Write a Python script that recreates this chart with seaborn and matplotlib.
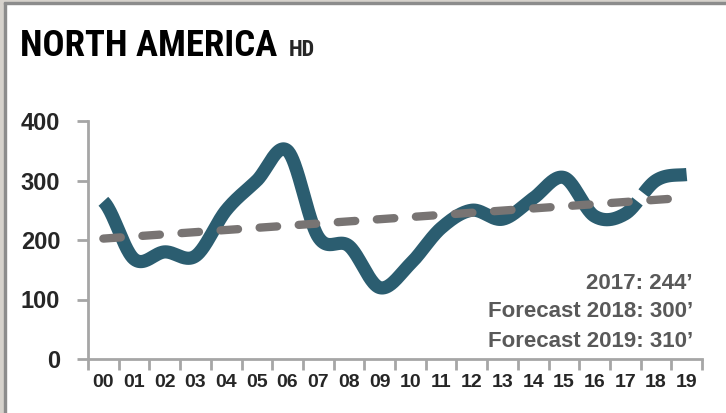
import numpy as np
import pandas as pd
import matplotlib
matplotlib.use("Agg")
import matplotlib.pyplot as plt
import seaborn as sns
from matplotlib.patches import Rectangle

# Annual volumes (thousand units), 2000-2019; last two are forecasts
year_labels = ["00", "01", "02", "03", "04", "05", "06", "07", "08", "09",
               "10", "11", "12", "13", "14", "15", "16", "17", "18", "19"]
volumes = [265, 168, 180, 173, 250, 300, 350, 205, 190, 120,
           160, 220, 250, 235, 270, 305, 240, 244, 300, 310]
forecast_start = 18
y_ticks = [0, 100, 200, 300, 400]
notes = ["2017: 244\u2019", "Forecast 2018: 300\u2019", "Forecast 2019: 310\u2019"]

TEAL = "#2b5d70"
TREND = "#787473"
AXIS = "#a6a6a6"
NOTE = "#595959"
NARROW = ["Liberation Sans Narrow", "Arial Narrow", "Roboto Condensed",
          "Archivo Narrow", "PT Sans Narrow", "Liberation Sans", "DejaVu Sans"]

sns.set_theme(style="white")
plt.rcParams["font.family"] = ["Liberation Sans", "DejaVu Sans"]

df = pd.DataFrame({"pos": np.arange(len(volumes)), "volume": volumes})


def catmull_rom(values, steps=40):
    """Smooth curve through equally spaced points (Excel-style smoothing)."""
    p = np.concatenate([[values[0]], values, [values[-1]]]).astype(float)
    ts, vs = [], []
    for i in range(len(values) - 1):
        p0, p1, p2, p3 = p[i], p[i + 1], p[i + 2], p[i + 3]
        u = np.linspace(0, 1, steps, endpoint=(i == len(values) - 2))
        v = 0.5 * (2 * p1 + (-p0 + p2) * u
                   + (2 * p0 - 5 * p1 + 4 * p2 - p3) * u ** 2
                   + (-p0 + 3 * p1 - 3 * p2 + p3) * u ** 3)
        ts.append(i + u)
        vs.append(v)
    return pd.DataFrame({"pos": np.concatenate(ts), "volume": np.concatenate(vs)})


curve = catmull_rom(np.array(volumes))
gap = 0.08
hist = curve[curve["pos"] <= forecast_start - 0.5 - gap]
fcst = curve[curve["pos"] >= forecast_start - 0.5 + gap]

fig = plt.figure(figsize=(7.26, 4.13), dpi=100)
ax = fig.add_axes([88 / 726, 54 / 413, 614 / 726, 238 / 413])

for part in (hist, fcst):
    sns.lineplot(data=part, x="pos", y="volume", ax=ax, color=TEAL, lw=9.5,
                 estimator=None, sort=False, solid_capstyle="butt", zorder=2)

sns.regplot(data=df, x="pos", y="volume", ax=ax, scatter=False, ci=None,
            truncate=True,
            line_kws=dict(color=TREND, lw=6, linestyle=(0, (2.1, 2.6)),
                          dash_capstyle="round", zorder=3))

ax.set_xlim(-0.5, len(volumes) - 0.5)
ax.set_ylim(0, 400)
ax.set_xlabel("")
ax.set_ylabel("")

# category axis: tick marks between years, labels centred on years
ax.set_xticks(np.arange(-0.5, len(volumes), 1))
ax.set_xticklabels([])
ax.set_xticks(np.arange(len(volumes)), minor=True)
ax.set_xticklabels(year_labels, minor=True, fontsize=14, fontweight="bold")
ax.tick_params(axis="x", which="major", length=8, width=2, color=AXIS,
               direction="out", bottom=True)
ax.tick_params(axis="x", which="minor", length=0, pad=11, bottom=True)

ax.set_yticks(y_ticks)
ax.set_yticklabels([str(t) for t in y_ticks], fontsize=17, fontweight="bold")
ax.tick_params(axis="y", length=8, width=2, color=AXIS, direction="out",
               left=True, pad=12)

for side in ("top", "right"):
    ax.spines[side].set_visible(False)
for side in ("left", "bottom"):
    ax.spines[side].set_color(AXIS)
    ax.spines[side].set_linewidth(2)
ax.grid(False)

for note, ypos in zip(notes, [0.294, 0.176, 0.052]):
    ax.text(0.985, ypos, note, transform=ax.transAxes, ha="right",
            va="baseline", fontsize=16, fontweight="bold", color=NOTE)

# title with a smaller suffix
title = fig.text(20 / 726, 1 - 56 / 413, "NORTH AMERICA", fontsize=26.5,
                 fontweight="bold", color="black", va="baseline", family=NARROW)
ax.annotate("HD", xy=(1, 1 - 56 / 413), xycoords=(title, "figure fraction"),
            xytext=(8, 0), textcoords="offset points", fontsize=16,
            fontweight="bold", va="baseline", ha="left", family=NARROW,
            annotation_clip=False)

# window-style frame on the left and top edges
fig.patches.append(Rectangle((0, 0), 4 / 726, 1, transform=fig.transFigure,
                             color="#d6d2cc", zorder=-1))
fig.patches.append(Rectangle((4 / 726, 0), 2 / 726, 1 - 2 / 413,
                             transform=fig.transFigure, color="#8c8c8c", zorder=-1))
fig.patches.append(Rectangle((0, 1 - 2 / 413), 1, 2 / 413,
                             transform=fig.transFigure, color="#d6d2cc", zorder=-1))
fig.patches.append(Rectangle((4 / 726, 1 - 4 / 413), 1, 2 / 413,
                             transform=fig.transFigure, color="#8c8c8c", zorder=-1))

fig.savefig("out.png", dpi=100)
